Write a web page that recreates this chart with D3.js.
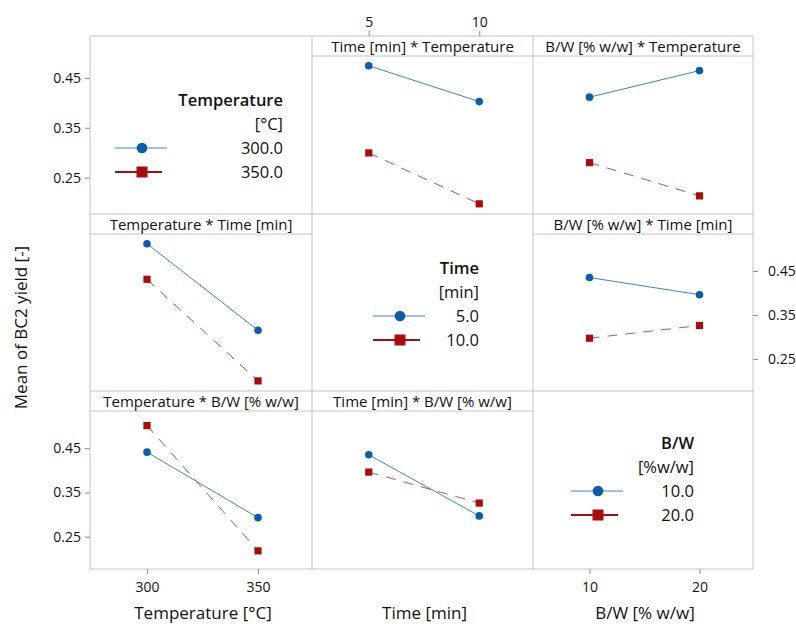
<!DOCTYPE html>
<html>
<head>
<meta charset="utf-8">
<script src="https://cdn.jsdelivr.net/npm/d3@7"></script>
<style>
  body { margin: 0; background: #fff; }
  text { font-family: "Open Sans", "Noto Sans", sans-serif; fill: #111; }
</style>
</head>
<body>
<div id="chart"></div>
<script>
// factor levels
var tempLevels = [300, 350];
var timeLevels = [5, 10];
var bwLevels = [10, 20];

// two-way means of BC2 yield
var tempTime = [[0.512, 0.431], [0.315, 0.200]];   // [temperature][time]
var tempBW   = [[0.441, 0.501], [0.293, 0.218]];   // [temperature][B/W]
var timeBW   = [[0.435, 0.396], [0.297, 0.326]];   // [time][B/W]

var yTicks = [0.25, 0.35, 0.45];
var yDomain = [0.177, 0.534];

var w = 796, h = 624;
var colEdges = [90, 312, 533, 753];
var rowEdges = [36, 214, 391, 569];
var headH = 20;
var blue = "#0b5cad", blueLine = "#3f82c4";
var red = "#a80d0d", redLine = "#c0504d";

var svg = d3.select("#chart").append("svg")
  .attr("width", w)
  .attr("height", h);

function transpose(m) { return m[0].map((_, j) => m.map(r => r[j])); }

var factors = {
  temp: {levels: tempLevels},
  time: {levels: timeLevels},
  bw: {levels: bwLevels}
};

// x scales per column
function xScale(levels, col) {
  return d3.scalePoint().domain(levels)
    .range([colEdges[col] + 1.5, colEdges[col + 1] + 1.5]).padding(0.5);
}
var colFactor = ["temp", "time", "bw"];

function yScale(row, full) {
  var top = full ? rowEdges[row] : rowEdges[row] + headH;
  return d3.scaleLinear().domain(yDomain).range([rowEdges[row + 1], top]);
}

var panels = [
  {row: 0, col: 1, title: "Time [min] * Temperature", lines: "temp", vals: tempTime},
  {row: 0, col: 2, title: "B/W [% w/w] * Temperature", lines: "temp", vals: tempBW},
  {row: 1, col: 0, title: "Temperature * Time [min]", lines: "time", vals: transpose(tempTime)},
  {row: 1, col: 2, title: "B/W [% w/w] * Time [min]", lines: "time", vals: timeBW},
  {row: 2, col: 0, title: "Temperature * B/W [% w/w]", lines: "bw", vals: transpose(tempBW)},
  {row: 2, col: 1, title: "Time [min] * B/W [% w/w]", lines: "bw", vals: transpose(timeBW)}
];

var grid = svg.append("g").attr("stroke", "#c4c4c4").attr("fill", "none");

// outer frame and cell lines
grid.append("rect")
  .attr("x", colEdges[0]).attr("y", rowEdges[0])
  .attr("width", colEdges[3] - colEdges[0]).attr("height", rowEdges[3] - rowEdges[0]);
[1, 2].forEach(c => grid.append("line")
  .attr("x1", colEdges[c]).attr("x2", colEdges[c])
  .attr("y1", rowEdges[0]).attr("y2", rowEdges[3]));
[1, 2].forEach(r => grid.append("line")
  .attr("x1", colEdges[0]).attr("x2", colEdges[3])
  .attr("y1", rowEdges[r]).attr("y2", rowEdges[r]));

panels.forEach(p => {
  var x0 = colEdges[p.col], x1 = colEdges[p.col + 1], y0 = rowEdges[p.row];
  grid.append("line")
    .attr("x1", x0).attr("x2", x1)
    .attr("y1", y0 + headH).attr("y2", y0 + headH);
  svg.append("text")
    .attr("x", (x0 + x1) / 2).attr("y", y0 + headH / 2 + 5.5)
    .attr("text-anchor", "middle")
    .attr("font-size", 15)
    .text(p.title);

  var xf = colFactor[p.col];
  var x = xScale(factors[xf].levels, p.col);
  var y = yScale(p.row, false);
  var g = svg.append("g");
  p.vals.forEach((series, i) => {
    var pts = series.map((v, j) => [x(factors[xf].levels[j]), y(v)]);
    g.append("path")
      .attr("d", d3.line()(pts))
      .attr("fill", "none")
      .attr("stroke", i === 0 ? blueLine : redLine)
      .attr("stroke-width", 1)
      .attr("stroke-dasharray", i === 0 ? null : "10,8");
    pts.forEach(pt => {
      if (i === 0) {
        g.append("circle").attr("cx", pt[0]).attr("cy", pt[1]).attr("r", 3.8).attr("fill", blue);
      } else {
        g.append("rect").attr("x", pt[0] - 3.6).attr("y", pt[1] - 3.6)
          .attr("width", 7.2).attr("height", 7.2).attr("fill", red);
      }
    });
  });
});

// axes
function styleAxis(g) {
  g.select(".domain").remove();
  g.selectAll(".tick line").attr("stroke", "#8a8a8a");
  g.selectAll(".tick text").attr("font-size", 14).attr("fill", "#111")
    .style("font-family", "'Open Sans', 'Noto Sans', sans-serif");
}
var fmt = d3.format(".2f");

svg.append("g").attr("transform", "translate(" + colEdges[0] + ",0)")
  .call(d3.axisLeft(yScale(0, true)).tickValues(yTicks).tickFormat(fmt).tickSize(5).tickPadding(4))
  .call(styleAxis);
svg.append("g").attr("transform", "translate(" + colEdges[0] + ",0)")
  .call(d3.axisLeft(yScale(2, false)).tickValues(yTicks).tickFormat(fmt).tickSize(5).tickPadding(4))
  .call(styleAxis);
svg.append("g").attr("transform", "translate(" + colEdges[3] + ",0)")
  .call(d3.axisRight(yScale(1, false)).tickValues(yTicks).tickFormat(fmt).tickSize(5).tickPadding(10))
  .call(styleAxis);

svg.append("g").attr("transform", "translate(0," + rowEdges[0] + ")")
  .call(d3.axisTop(xScale(timeLevels, 1)).tickSize(5).tickPadding(4))
  .call(styleAxis);
svg.append("g").attr("transform", "translate(0," + rowEdges[3] + ")")
  .call(d3.axisBottom(xScale(tempLevels, 0)).tickSize(5).tickPadding(8))
  .call(styleAxis);
svg.append("g").attr("transform", "translate(0," + rowEdges[3] + ")")
  .call(d3.axisBottom(xScale(bwLevels, 2)).tickSize(5).tickPadding(8))
  .call(styleAxis);

// axis titles
var xTitles = ["Temperature [°C]", "Time [min]", "B/W [% w/w]"];
xTitles.forEach((t, c) => svg.append("text")
  .attr("x", (colEdges[c] + colEdges[c + 1]) / 2 + 2).attr("y", 619)
  .attr("text-anchor", "middle").attr("font-size", 17)
  .text(t));
svg.append("text")
  .attr("transform", "translate(27," + ((rowEdges[0] + rowEdges[3]) / 2 + 25) + ") rotate(-90)")
  .attr("text-anchor", "middle").attr("font-size", 17)
  .text("Mean of BC2 yield [-]");

// legends
var legends = [
  {col: 0, row: 0, title: ["Temperature", "[°C]"], labels: ["300.0", "350.0"], tx: 283, ty: 64, mx: 142},
  {col: 1, row: 1, title: ["Time", "[min]"], labels: ["5.0", "10.0"], tx: 479, ty: 54, mx: 400},
  {col: 2, row: 2, title: ["B/W", "[%w/w]"], labels: ["10.0", "20.0"], tx: 694, ty: 52, mx: 598}
];
legends.forEach(L => {
  var y0 = rowEdges[L.row] + L.ty;
  var rows = L.title.concat(L.labels);
  rows.forEach((t, i) => svg.append("text")
    .attr("x", L.tx).attr("y", y0 + i * 24 + 6)
    .attr("text-anchor", "end").attr("font-size", 16.5)
    .attr("font-weight", i === 0 ? 600 : 400)
    .text(t));
  var yb = y0 + 2 * 24, yr = y0 + 3 * 24;
  svg.append("line").attr("x1", L.mx - 27).attr("x2", L.mx + 25)
    .attr("y1", yb).attr("y2", yb).attr("stroke", blueLine).attr("stroke-width", 1.2);
  svg.append("circle").attr("cx", L.mx).attr("cy", yb).attr("r", 5.3).attr("fill", blue);
  svg.append("line").attr("x1", L.mx - 27).attr("x2", L.mx + 20)
    .attr("y1", yr).attr("y2", yr).attr("stroke", red).attr("stroke-width", 1.8);
  svg.append("rect").attr("x", L.mx - 5.5).attr("y", yr - 5.5)
    .attr("width", 11).attr("height", 11).attr("fill", red);
});
</script>
</body>
</html>
